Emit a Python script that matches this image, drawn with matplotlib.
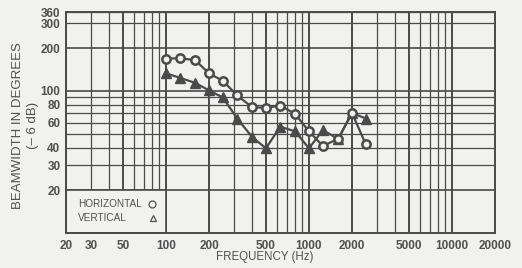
import matplotlib
matplotlib.use("Agg")
import matplotlib.pyplot as plt
from matplotlib.patches import Rectangle
from matplotlib.ticker import FixedLocator, NullFormatter, FixedFormatter

plt.rcParams['font.family'] = ['Liberation Sans', 'DejaVu Sans']

freq = [100, 125, 160, 200, 250, 315, 400, 500, 630, 800, 1000, 1250, 1600, 2000, 2500]
horizontal = [169, 170, 165, 133, 118, 93, 77, 76, 79, 69, 52, 41, 46, 70, 42]
vertical = [133, 124, 114, 101, 90, 64, 47.5, 39.5, 56, 52, 39.5, 53, 46, 70, 64]

x_major = [20, 30, 50, 100, 200, 500, 1000, 2000, 5000, 10000, 20000]
x_major_labels = ["20", "30", "50", "100", "200", "500", "1000", "2000", "5000", "10000", "20000"]
x_minor = [40, 60, 70, 80, 90, 300, 400, 600, 700, 800, 900, 3000, 4000, 6000, 7000, 8000, 9000]
x_thick = [20, 50, 100, 200, 500, 1000, 2000, 5000, 10000, 20000]
y_major = [20, 30, 40, 60, 80, 100, 200, 300, 360]
y_major_labels = ["20", "30", "40", "60", "80", "100", "200", "300", "360"]
y_minor = [50, 70, 90]

ink = '#4a4a4a'
txt = '#505050'
bg = '#f1f1ef'

fig = plt.figure(figsize=(5.22, 2.68), dpi=100, facecolor=bg)
ax = fig.add_axes([66/522, 1-233/268, (495-66)/522, (233-12)/268])
ax.set_facecolor(bg)
ax.set_xscale('log')
ax.set_yscale('log')
ax.set_xlim(20, 20000)
ax.set_ylim(10, 360)

# grid lines
for xv in x_major + x_minor:
    lw = 1.4 if xv in x_thick else 0.9
    ax.axvline(xv, color=ink, lw=lw, zorder=1)
for yv in y_major + y_minor:
    lw = 1.2 if yv in (20, 100, 200) else 0.9
    ax.axhline(yv, color=ink, lw=lw, zorder=1)

ax.xaxis.set_major_locator(FixedLocator(x_major))
ax.xaxis.set_major_formatter(FixedFormatter(x_major_labels))
ax.xaxis.set_minor_locator(FixedLocator(x_minor))
ax.xaxis.set_minor_formatter(NullFormatter())
ax.yaxis.set_major_locator(FixedLocator(y_major))
ax.yaxis.set_major_formatter(FixedFormatter(y_major_labels))
ax.yaxis.set_minor_locator(FixedLocator(y_minor))
ax.yaxis.set_minor_formatter(NullFormatter())
ax.tick_params(which='both', length=0, labelsize=8.5, colors=txt)
ax.tick_params(axis='x', pad=5)
ax.tick_params(axis='y', pad=4)
for lab in ax.get_xticklabels() + ax.get_yticklabels():
    lab.set_fontweight('bold')

for s in ax.spines.values():
    s.set_color(ink)
    s.set_linewidth(1.4)

# legend box
ax.add_patch(Rectangle((20, 10), 80, 10, facecolor=bg, edgecolor=ink, lw=1.2, zorder=2))
ax.text(24.3, 15.9, "HORIZONTAL", fontsize=7.2, color=txt, va='center', ha='left', zorder=3)
ax.text(24.3, 12.7, "VERTICAL", fontsize=7.2, color=txt, va='center', ha='left', zorder=3)
ax.plot([80], [15.9], marker='o', ms=5, mfc='none', mec=txt, mew=0.9, ls='none', zorder=3)
ax.plot([81], [12.8], marker='^', ms=5, mfc='none', mec=txt, mew=0.9, ls='none', zorder=3)

# data
ax.plot(freq, horizontal, color=ink, lw=1.6, marker='o', ms=6, mfc=bg, mec=ink, mew=1.8, zorder=5)
ax.plot(freq, vertical, color=ink, lw=1.6, marker='^', ms=6.5, mfc=ink, mec=ink, zorder=4)

fig.text(265/522, 1-257/268, "FREQUENCY (Hz)", fontsize=8.3, color=txt, ha='center', va='center')
fig.text(18/522, 1-126/268, "BEAMWIDTH IN DEGREES", fontsize=9.5, color=txt, ha='center', va='center', rotation=90)
fig.text(33/522, 1-125/268, "(– 6 dB)", fontsize=9.5, color=txt, ha='center', va='center', rotation=90)

fig.savefig("out.png", dpi=100, facecolor=bg)
